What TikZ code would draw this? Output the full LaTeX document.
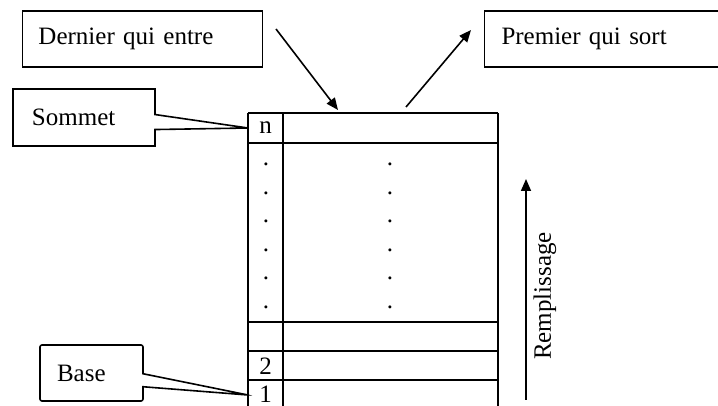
\documentclass[tikz,border=0pt]{standalone}
\usepackage{fontspec}
\setmainfont{Liberation Serif}
\usetikzlibrary{shapes.callouts,arrows.meta}
\begin{document}
\begin{tikzpicture}[x=0.5pt,y=-0.5pt,->,>={Triangle[length=6pt,width=5pt]},
  line width=0.8pt,
  text box/.style={draw,rectangle,align=left,inner xsep=8pt,minimum height=28pt,font=\fontsize{12.5}{15}\selectfont},
  cell/.style={font=\fontsize{12.5}{15}\selectfont,inner sep=0pt}]
  \useasboundingbox (0,0) rectangle (718,406);
  \clip (0,0) rectangle (718,406);
%boxes
  \node[text box,text width=104pt] (dernier) at (142.5,39) {Dernier qui entre};
  \node[text box,text width=111pt,inner xsep=8.5pt] (premier) at (612.5,39) {Premier qui sort};
%callouts
  \node[text box,rectangle callout,text width=52pt,inner xsep=9.5pt,minimum height=28.5pt,
    callout absolute pointer={(248,128)},callout pointer width=7.5pt] (sommet) at (84,117.5) {Sommet};
  \node[text box,rectangle callout,rounded corners=1pt,text width=34.5pt,inner xsep=8.5pt,
    callout absolute pointer={(248,395)},callout pointer width=6.5pt] (base) at (91.5,373) {Base};
%table
  \begin{scope}[-]
    \foreach \x in {248,283,498}
      \draw (\x,113) -- (\x,410);
    \foreach \y in {113,143,322,351,380}
      \draw (248,\y) -- (498,\y);
  \end{scope}
  \node[cell] (n) at (265.5,128) {n};
  \node[cell] (deux) at (265.5,366) {2};
  \node[cell] (un) at (265.5,394) {1};
  \foreach \y in {163,192,220,249,277,306} {
    \node[cell,anchor=base] (g\y) at (266,\y+3) {.};
    \node[cell,anchor=base] (d\y) at (390,\y+3) {.};
  }
%arrows
  \coordinate (in a) at (276,29);
  \coordinate (in b) at (338,110);
  \coordinate (out a) at (406,107);
  \coordinate (out b) at (471,30);
  \coordinate (fill a) at (526,400);
  \coordinate (fill b) at (526,179);
  \draw (in a) -- (in b);
  \draw (out a) -- (out b);
  \draw (fill a) -- (fill b);
  \node[cell,rotate=90] (remplissage) at (545,296) {Remplissage};
\end{tikzpicture}
\end{document}
